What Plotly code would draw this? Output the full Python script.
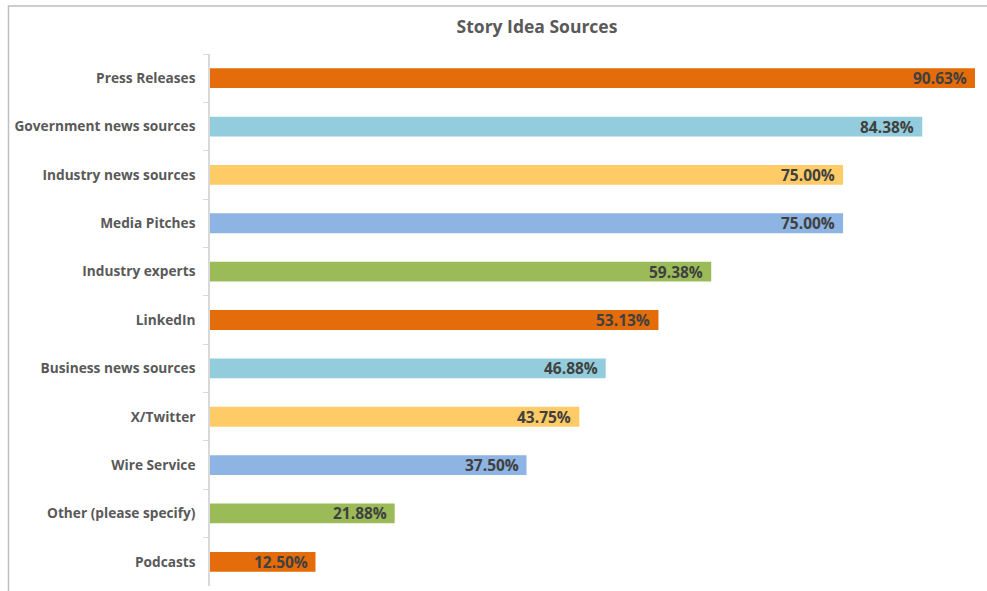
import plotly.graph_objects as go

categories = ["Press Releases", "Government news sources", "Industry news sources",
              "Media Pitches", "Industry experts", "LinkedIn", "Business news sources",
              "X/Twitter", "Wire Service", "Other (please specify)", "Podcasts"]
values = [90.63, 84.38, 75.00, 75.00, 59.38, 53.13, 46.88, 43.75, 37.50, 21.88, 12.50]
labels = ["90.63%", "84.38%", "75.00%", "75.00%", "59.38%", "53.13%", "46.88%",
          "43.75%", "37.50%", "21.88%", "12.50%"]
palette = ["#E46C0A", "#93CDDD", "#FFCB66", "#8DB4E2", "#9BBB59"]
colors = [palette[i % len(palette)] for i in range(len(categories))]

W, H = 987, 591
L, R, T, B = 210, 12, 54, 5

fig = go.Figure()
fig.add_trace(go.Bar(
    y=categories, x=values, orientation="h",
    marker=dict(color=colors, line=dict(width=0)),
    hoverinfo="skip",
))

for cat, val, lab in zip(categories, values, labels):
    fig.add_annotation(x=val, y=cat, xref="x", yref="y", text=f"<b>{lab}</b>",
                       showarrow=False, xanchor="right", yanchor="middle", xshift=-6,
                       font=dict(family="Open Sans", size=15.5, color="#404040"))

pw = W - L - R
ph = H - T - B
fig.add_shape(type="rect", xref="paper", yref="paper",
              x0=(8.5 - L) / pw, x1=1.2, y0=-0.2, y1=(H - B - 6) / ph,
              line=dict(color="#BFBFBF", width=1.5), fillcolor="rgba(0,0,0,0)", layer="below")

fig.update_layout(
    width=W, height=H,
    margin=dict(l=L, r=R, t=T, b=B),
    paper_bgcolor="white", plot_bgcolor="white",
    title=dict(text="<b>Story Idea Sources</b>", x=537 / W, xanchor="center",
               y=1 - 27 / H, yanchor="middle",
               font=dict(family="Open Sans", size=17.5, color="#595959")),
    bargap=0.59,
    showlegend=False,
)
fig.update_xaxes(range=[0, max(values)], visible=False, showgrid=False, zeroline=False)
fig.update_yaxes(range=[len(categories) - 0.5, -0.5], type="category", tickson="boundaries",
                 ticks="outside", ticklen=5, tickcolor="#D9D9D9",
                 showline=True, linecolor="#D9D9D9", linewidth=1.5, showgrid=False,
                 ticklabelstandoff=10,
                 tickfont=dict(family="Open Sans", size=13.7, color="#595959", weight="bold"))

fig.write_html("out.html", config={"displayModeBar": False},
               post_script="document.body.style.margin='0';")
